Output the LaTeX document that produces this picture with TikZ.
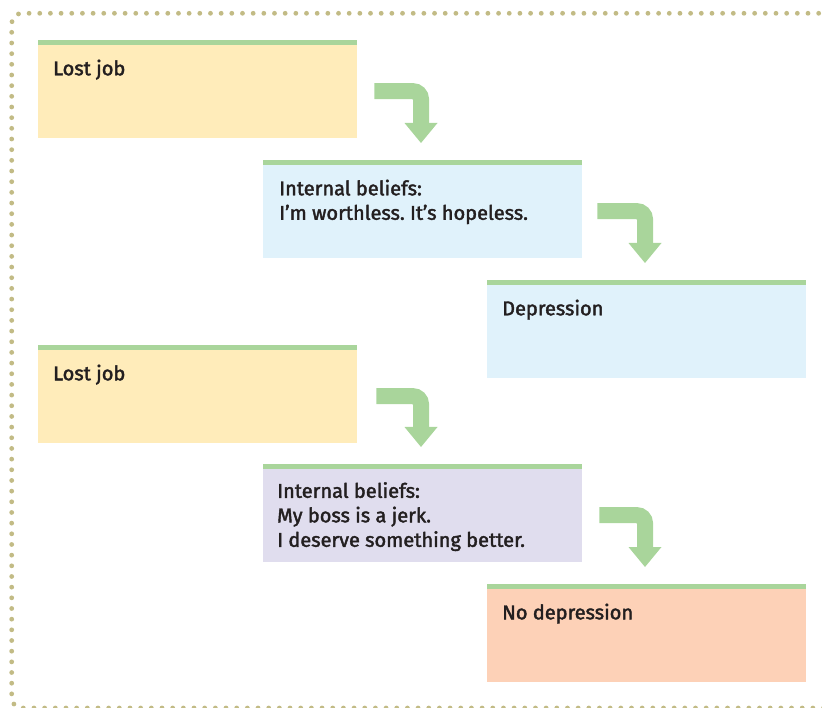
\documentclass[tikz,border=0pt]{standalone}
\usepackage{fontspec}
\setmainfont{Fira Sans}[FakeBold=2]
\usetikzlibrary{calc,arrows.meta}
\definecolor{arrowgreen}{HTML}{A9D59B}
\definecolor{yellowbg}{HTML}{FFECBA}
\definecolor{bluebg}{HTML}{E0F2FB}
\definecolor{lavbg}{HTML}{E0DDEE}
\definecolor{peachbg}{HTML}{FDD1B7}
\definecolor{dotcol}{HTML}{C2BB85}
\definecolor{ink}{HTML}{231F20}
\frenchspacing
\tikzset{
  box/.style={rectangle, minimum width=319pt, minimum height=98pt, inner sep=0pt, anchor=north west, draw=none},
  topbar/.style={fill=arrowgreen},
  txt/.style={anchor=north west, inner sep=0pt, align=left, font=\fontsize{20}{24.5}\selectfont, text=ink},
  bendarrow/.style={line width=16pt, draw=arrowgreen, rounded corners=8pt, -{Triangle[width=33pt,length=20pt,line width=0pt]}},
  frame/.style={draw=dotcol, line width=4.8pt, line cap=round, dash pattern=on 0pt off 10.67pt, rounded corners=10pt}
}
\begin{document}
\begin{tikzpicture}[x=1pt,y=-1pt]
\useasboundingbox (0,0) rectangle (822,708);
% dotted frame
\coordinate (fa) at (840,13.3);
\coordinate (fb) at (11.7,13.3);
\coordinate (fc) at (11.7,708);
\coordinate (fd) at (840,708);
\draw[frame] (fa) -- (fb) -- (fc) -- (fd);
% boxes
\node[box, fill=yellowbg] (b1) at (38,40) {};
\node[box, fill=bluebg] (b2) at (263,160) {};
\node[box, fill=bluebg] (b3) at (487,280) {};
\node[box, fill=yellowbg] (b4) at (38,345) {};
\node[box, fill=lavbg] (b5) at (263,464) {};
\node[box, fill=peachbg] (b6) at (487,584) {};
\foreach \b in {b1,b2,b3,b4,b5,b6}{
  \fill[topbar] (\b.north west) rectangle ($(\b.north east)+(0,5)$);
}
% texts
\node[txt] (t1) at ($(b1.north west)+(15,19.5)$) {\rule{0pt}{15pt}Lost job};
\node[txt] (t2) at ($(b2.north west)+(16,19.5)$) {\rule{0pt}{15pt}Internal beliefs:\\I’m worthless. It’s hopeless.};
\node[txt] (t3) at ($(b3.north west)+(15,19.5)$) {\rule{0pt}{15pt}Depression};
\node[txt] (t4) at ($(b4.north west)+(15,19.5)$) {\rule{0pt}{15pt}Lost job};
\node[txt] (t5) at ($(b5.north west)+(14,18)$) {\rule{0pt}{15pt}Internal beliefs:\\My boss is a jerk.\\I deserve something better.};
\node[txt] (t6) at ($(b6.north west)+(15,19.5)$) {\rule{0pt}{15pt}No depression};
% bent arrows
\coordinate (a1s) at ($(b1.east)+(17,2)$);
\coordinate (a1e) at ($(b2.north west)+(158,-17)$);
\draw[bendarrow] (a1s) -| (a1e);
\coordinate (a2s) at ($(b2.east)+(15,2)$);
\coordinate (a2e) at ($(b3.north west)+(158,-17)$);
\draw[bendarrow] (a2s) -| (a2e);
\coordinate (a3s) at ($(b4.east)+(19,2)$);
\coordinate (a3e) at ($(b5.north west)+(158,-17)$);
\draw[bendarrow] (a3s) -| (a3e);
\coordinate (a4s) at ($(b5.east)+(17,2)$);
\coordinate (a4e) at ($(b6.north west)+(158,-17)$);
\draw[bendarrow] (a4s) -| (a4e);
\end{tikzpicture}
\end{document}
